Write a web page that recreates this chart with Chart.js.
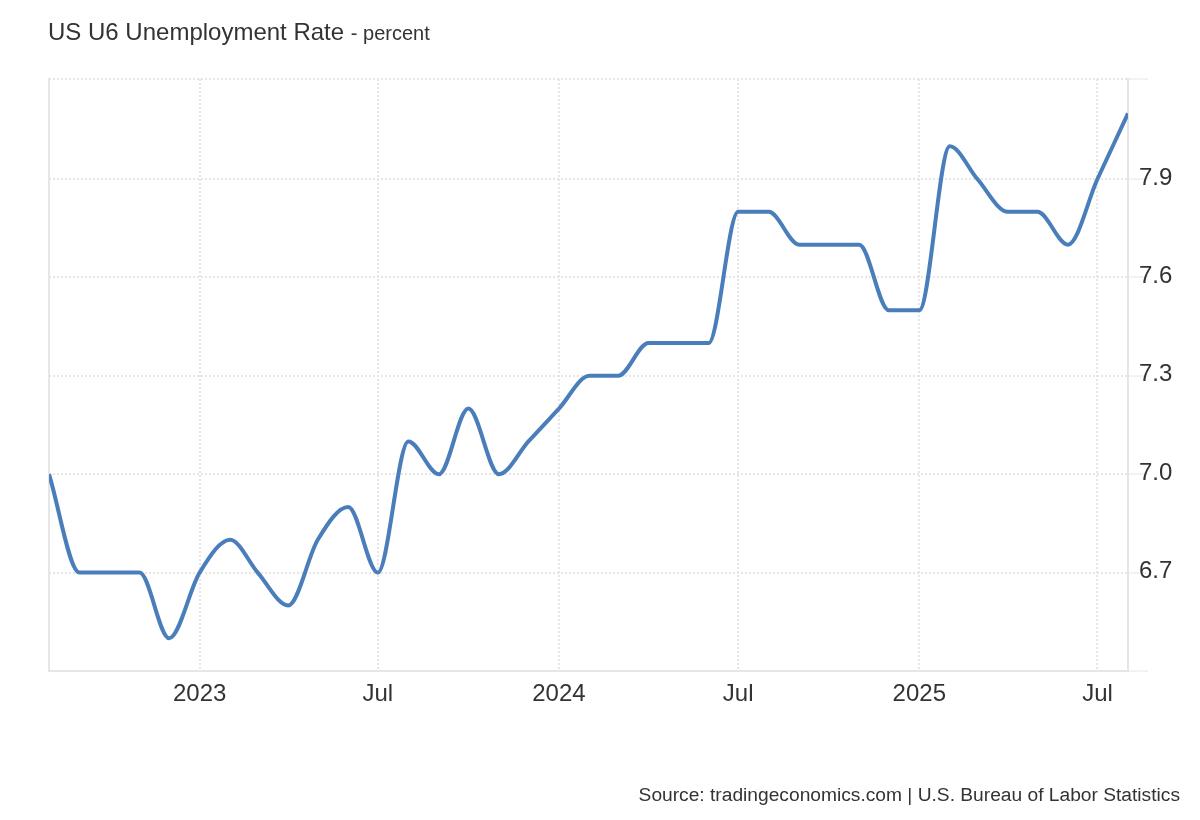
<!DOCTYPE html>
<html>
<head>
<meta charset="utf-8">
<title>US U6 Unemployment Rate</title>
<script src="https://cdn.jsdelivr.net/npm/chart.js@4/dist/chart.umd.min.js"></script>
<style>
  html, body { margin: 0; padding: 0; background: #fff; }
  #wrap { position: relative; width: 1200px; height: 820px; overflow: hidden; }
  #c { position: absolute; left: 0; top: 0; }
  .title { position: absolute; left: 48px; top: 18px; font: 24px "Liberation Sans", Arial, sans-serif; color: #333; white-space: nowrap; }
  .title span { font-size: 20px; }
  .source { position: absolute; right: 20px; top: 784px; font: 19.2px "Liberation Sans", Arial, sans-serif; color: #333; white-space: nowrap; }
</style>
</head>
<body>
<div id="wrap">
  <canvas id="c" width="1200" height="820"></canvas>
  <div class="title">US U6 Unemployment Rate <span>- percent</span></div>
  <div class="source">Source: tradingeconomics.com | U.S. Bureau of Labor Statistics</div>
</div>
<script>
const months = [
  '2022-08', '2022-09', '2022-10', '2022-11', '2022-12',
  '2023-01', '2023-02', '2023-03', '2023-04', '2023-05', '2023-06', '2023-07', '2023-08', '2023-09', '2023-10', '2023-11', '2023-12',
  '2024-01', '2024-02', '2024-03', '2024-04', '2024-05', '2024-06', '2024-07', '2024-08', '2024-09', '2024-10', '2024-11', '2024-12',
  '2025-01', '2025-02', '2025-03', '2025-04', '2025-05', '2025-06', '2025-07', '2025-08'
];
const u6Values = [
  7.0, 6.7, 6.7, 6.7, 6.5,
  6.7, 6.8, 6.7, 6.6, 6.8, 6.9, 6.7, 7.1, 7.0, 7.2, 7.0, 7.1,
  7.2, 7.3, 7.3, 7.4, 7.4, 7.4, 7.8, 7.8, 7.7, 7.7, 7.7, 7.5,
  7.5, 8.0, 7.9, 7.8, 7.8, 7.7, 7.9, 8.1
];
const xTickMonths = ['2023-01', '2023-07', '2024-01', '2024-07', '2025-01', '2025-07'];
const xTickLabels = ['2023', 'Jul', '2024', 'Jul', '2025', 'Jul'];
const yTicks = [6.7, 7.0, 7.3, 7.6, 7.9];
const yMin = 6.4;
const yMax = 8.205;

const gridColor = '#e6e6e6';
const axisColor = '#e6e6e6';
const fontFamily = '"Liberation Sans", Arial, sans-serif';

// months sit on a real time axis (days since the first point), so spacing follows the calendar
const toDay = m => Date.parse(m + '-01T00:00:00Z') / 86400000;
const firstDay = toDay(months[0]);
const dayOf = m => toDay(m) - firstDay;
const xTickDays = xTickMonths.map(dayOf);

new Chart(document.getElementById('c'), {
  type: 'line',
  data: {
    datasets: [{
      label: 'US U6 Unemployment Rate',
      data: months.map((m, i) => ({ x: dayOf(m), y: u6Values[i] })),
      borderColor: '#4a7ebb',
      borderWidth: 4,
      pointRadius: 0,
      cubicInterpolationMode: 'monotone',
      clip: 0,
      fill: false
    }]
  },
  options: {
    responsive: false,
    animation: false,
    devicePixelRatio: 1,
    layout: { padding: { left: 49, top: 79, right: 0, bottom: 0 } },
    plugins: { legend: { display: false }, tooltip: { enabled: false } },
    scales: {
      x: {
        type: 'linear',
        min: 0,
        max: dayOf(months[months.length - 1]),
        afterBuildTicks(axis) {
          axis.ticks = xTickDays.map(v => ({ value: v }));
        },
        afterFit(axis) { axis.height = 149; },
        border: { color: axisColor, width: 2, dash: [2, 2] },
        grid: { color: gridColor, lineWidth: 2, drawTicks: false },
        ticks: {
          autoSkip: false,
          maxRotation: 0,
          padding: 9,
          color: '#333',
          font: { family: fontFamily, size: 24 },
          callback(value) { return xTickLabels[xTickDays.indexOf(value)]; }
        }
      },
      y: {
        position: 'right',
        min: yMin,
        max: yMax,
        afterBuildTicks(axis) {
          axis.ticks = [yMin].concat(yTicks, [yMax]).map(v => ({ value: v }));
        },
        afterFit(axis) { axis.width = 72; },
        border: { color: axisColor, width: 2, dash: [2, 2] },
        grid: { color: gridColor, lineWidth: 2, tickLength: 20, drawTicks: true, tickColor: axisColor, tickWidth: 1 },
        ticks: {
          autoSkip: false,
          padding: -9,
          labelOffset: -1,
          color: '#333',
          font: { family: fontFamily, size: 24 },
          callback(value) { return yTicks.includes(value) ? value.toFixed(1) : ''; }
        }
      },
      // left edge line only
      yLeft: {
        axis: 'y',
        position: 'left',
        border: { color: axisColor, width: 2 },
        grid: { display: false, drawTicks: false },
        ticks: { display: false },
        afterFit(axis) { axis.width = 0; }
      }
    }
  }
});
</script>
</body>
</html>
